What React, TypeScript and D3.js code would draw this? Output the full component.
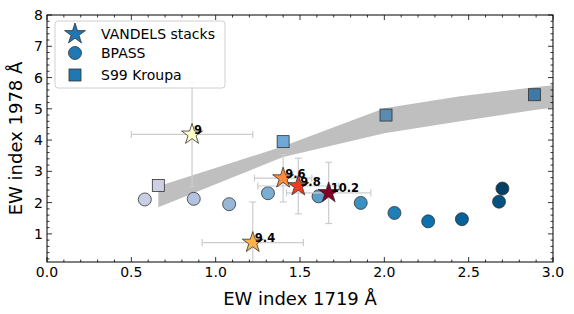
import * as d3 from "d3";
import React from "react";

// VANDELS stacks (mass bins)
const massLabels = ["9", "9.4", "9.6", "9.8", "10.2"];
const starX = [0.86, 1.22, 1.40, 1.49, 1.67];
const starY = [4.18, 0.72, 2.78, 2.53, 2.31];
const starXErr = [0.36, 0.30, 0.17, 0.24, 0.25];
const starYErr = [1.67, 1.30, 0.76, 0.89, 0.98];
const starColors = ["#ffffcc", "#feb24c", "#fd8d3c", "#f03b20", "#800026"];

// BPASS models
const bpassX = [0.58, 0.87, 1.08, 1.31, 1.61, 1.86, 2.06, 2.26, 2.46, 2.68, 2.70];
const bpassY = [2.10, 2.12, 1.95, 2.30, 2.20, 1.99, 1.67, 1.40, 1.47, 2.03, 2.45];

// S99 Kroupa models
const s99X = [0.66, 1.40, 2.01, 2.89];
const s99Y = [2.55, 3.95, 4.80, 5.45];
const s99Colors = ["#cfcfe4", "#6fa8d6", "#5a8cb2", "#3e79a7"];

// S99 band
const bandX = [0.66, 1.40, 2.0, 2.45, 2.9, 3.05];
const bandLow = [1.85, 3.46, 4.22, 4.60, 4.97, 5.07];
const bandHigh = [2.52, 3.80, 5.02, 5.40, 5.70, 5.78];

const xTicks = [0, 0.5, 1.0, 1.5, 2.0, 2.5, 3.0];
const yTicks = [1, 2, 3, 4, 5, 6, 7, 8];

const W = 574;
const H = 314;
const m = { left: 47, right: 21, top: 15, bottom: 52 };

const App = () => {
  const x = d3.scaleLinear().domain([0, 3]).range([m.left, W - m.right]);
  const y = d3.scaleLinear().domain([0.1, 8]).range([H - m.bottom, m.top]);
  const x0 = m.left, x1 = W - m.right, y0 = H - m.bottom, y1 = m.top;

  const star = (r: number) => d3.symbol(d3.symbolStar, (r * r) / 0.8908130915292852)();

  const band = d3
    .area<number>()
    .x((_, i) => x(bandX[i]))
    .y0((_, i) => y(bandLow[i]))
    .y1((_, i) => y(bandHigh[i]));

  const bpassColor = d3.scaleLinear().domain([0, bpassX.length - 1]).range([0.27, 0.97]);

  const xMinor = d3.range(0, 3.001, 0.1).filter((v) => Math.abs(v * 2 - Math.round(v * 2)) > 1e-6);
  const yMinor = d3.range(0.2, 8.001, 0.2).filter((v) => Math.abs(v - Math.round(v)) > 1e-6);

  const font = "DejaVu Sans, sans-serif";
  const edge = "#333";

  return (
    <svg width={W} height={H} style={{ position: "absolute", left: 0, top: 0, background: "#fff" }} fontFamily={font}>
      <defs>
        <clipPath id="plot">
          <rect x={x0} y={y1} width={x1 - x0} height={y0 - y1} />
        </clipPath>
      </defs>
      <g clipPath="url(#plot)">
        <path d={band(bandX) || ""} fill="#bfbfbf" />
        {bpassX.map((v, i) => (
          <circle key={"b" + i} cx={x(v)} cy={y(bpassY[i])} r={6.5}
            fill={d3.interpolatePuBu(bpassColor(i))} stroke={edge} strokeWidth={0.8} />
        ))}
        {s99X.map((v, i) => (
          <rect key={"s" + i} x={x(v) - 6} y={y(s99Y[i]) - 6} width={12} height={12}
            fill={s99Colors[i]} stroke={edge} strokeWidth={0.8} />
        ))}
        {starX.map((v, i) => {
          const cx = x(v), cy = y(starY[i]);
          const xl = x(v - starXErr[i]), xr = x(v + starXErr[i]);
          const yt = y(starY[i] + starYErr[i]), yb = y(starY[i] - starYErr[i]);
          return (
            <g key={"e" + i} stroke="#cccccc" strokeWidth={1.2}>
              <line x1={xl} x2={xr} y1={cy} y2={cy} />
              <line x1={cx} x2={cx} y1={yt} y2={yb} />
              <line x1={xl} x2={xl} y1={cy - 3.5} y2={cy + 3.5} />
              <line x1={xr} x2={xr} y1={cy - 3.5} y2={cy + 3.5} />
              <line x1={cx - 3.5} x2={cx + 3.5} y1={yt} y2={yt} />
              <line x1={cx - 3.5} x2={cx + 3.5} y1={yb} y2={yb} />
            </g>
          );
        })}
        {starX.map((v, i) => (
          <g key={"st" + i} transform={`translate(${x(v)},${y(starY[i])})`}>
            <path d={star(11) || ""} fill={starColors[i]} stroke={edge} strokeWidth={0.8} />
            <text x={2} y={-0.5} fontSize={11.5} fontWeight="bold" fill="#000">{massLabels[i]}</text>
          </g>
        ))}
      </g>

      {/* frame */}
      <rect x={x0} y={y1} width={x1 - x0} height={y0 - y1} fill="none" stroke="#000" strokeWidth={1} />

      {/* ticks */}
      <g stroke="#000" strokeWidth={0.8}>
        {xTicks.map((t) => (
          <g key={"xt" + t}>
            <line x1={x(t)} x2={x(t)} y1={y0} y2={y0 - 5} />
            <line x1={x(t)} x2={x(t)} y1={y1} y2={y1 + 5} />
          </g>
        ))}
        {xMinor.map((t) => (
          <g key={"xm" + t}>
            <line x1={x(t)} x2={x(t)} y1={y0} y2={y0 - 2.5} />
            <line x1={x(t)} x2={x(t)} y1={y1} y2={y1 + 2.5} />
          </g>
        ))}
        {yTicks.map((t) => (
          <g key={"yt" + t}>
            <line x1={x0} x2={x0 + 5} y1={y(t)} y2={y(t)} />
            <line x1={x1} x2={x1 - 5} y1={y(t)} y2={y(t)} />
          </g>
        ))}
        {yMinor.map((t) => (
          <g key={"ym" + t}>
            <line x1={x0} x2={x0 + 2.5} y1={y(t)} y2={y(t)} />
            <line x1={x1} x2={x1 - 2.5} y1={y(t)} y2={y(t)} />
          </g>
        ))}
      </g>
      {xTicks.map((t) => (
        <text key={"xl" + t} x={x(t)} y={y0 + 15} fontSize={14} textAnchor="middle" fill="#000">
          {t.toFixed(1)}
        </text>
      ))}
      {yTicks.map((t) => (
        <text key={"yl" + t} x={x0 - 4} y={y(t) + 5} fontSize={14} textAnchor="end" fill="#000">
          {t}
        </text>
      ))}
      <text x={(x0 + x1) / 2} y={305} fontSize={18} textAnchor="middle" fill="#000">EW index 1719 Å</text>
      <text transform={`translate(22,${(y0 + y1) / 2}) rotate(-90)`} fontSize={18} textAnchor="middle" fill="#000">
        EW index 1978 Å
      </text>

      {/* legend */}
      <g>
        <rect x={55} y={21} width={170} height={67} rx={3} fill="#fff" fillOpacity={0.8} stroke="#d0d0d0" />
        <path d={star(11) || ""} transform="translate(75,34)" fill="#1f77b4" stroke={edge} strokeWidth={0.8} />
        <circle cx={75} cy={53} r={6.5} fill="#1f77b4" stroke={edge} strokeWidth={0.8} />
        <rect x={69} y={69} width={12} height={12} fill="#1f77b4" stroke={edge} strokeWidth={0.8} />
        <text x={101} y={39} fontSize={14} fill="#000">VANDELS stacks</text>
        <text x={101} y={58} fontSize={14} fill="#000">BPASS</text>
        <text x={101} y={80} fontSize={14} fill="#000">S99 Kroupa</text>
      </g>
    </svg>
  );
};

export default App;
